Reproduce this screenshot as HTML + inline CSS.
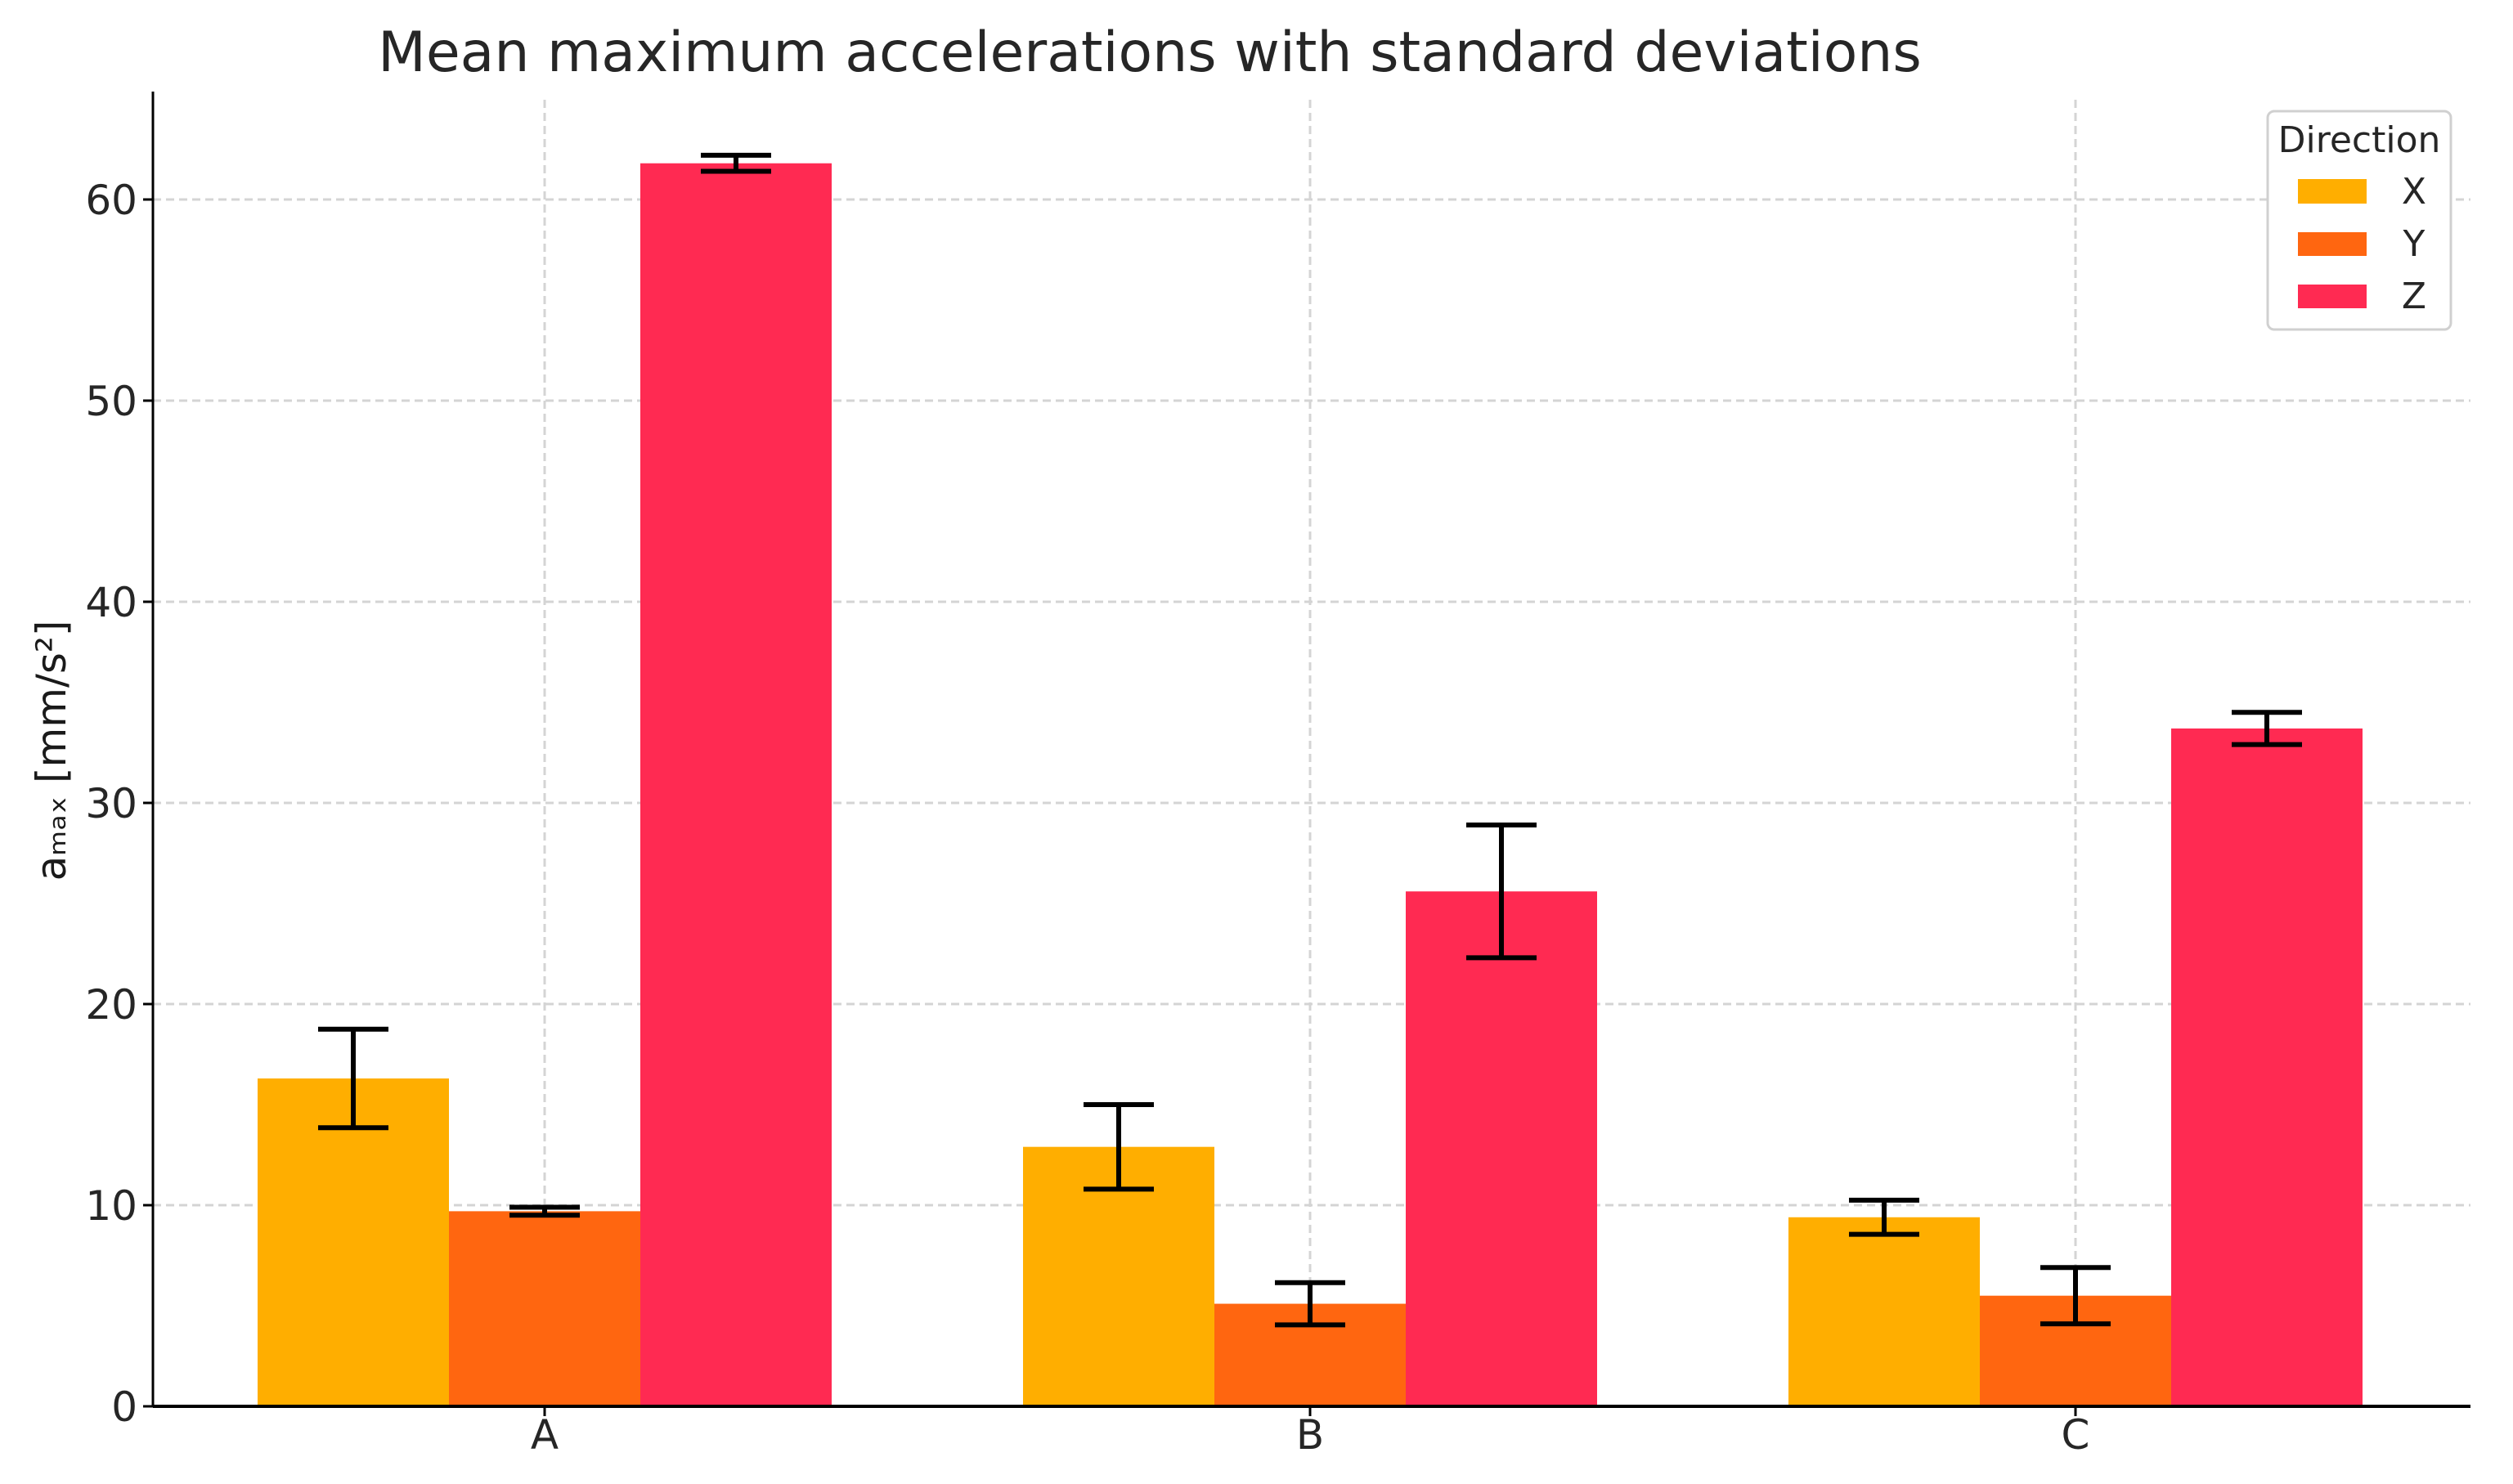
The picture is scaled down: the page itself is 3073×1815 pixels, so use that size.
<!DOCTYPE html>
<html><head><meta charset="utf-8"><style>
html,body{margin:0;padding:0;background:#fff;}
svg{display:block;font-family:"DejaVu Sans","Liberation Sans",sans-serif;}
</style></head><body>
<svg id="chart" width="3073" height="1815" viewBox="0 0 3073 1815" xmlns="http://www.w3.org/2000/svg">
<rect width="3073" height="1815" fill="#fff"/>
<text x="1406" y="87" font-size="68" fill="#262626" text-anchor="middle">Mean maximum accelerations with standard deviations</text>
<g id="grid"></g>
<g id="bars"></g>
<g id="errs"></g>
<g id="axes"></g>
<text transform="translate(80,918) rotate(-90)" font-size="50" fill="#1a1a1a" text-anchor="middle">aₘₐₓ [mm/s²]</text>
<g>
<rect x="2773" y="136" width="224" height="267" rx="8" fill="#fff" stroke="#d0d0d0" stroke-width="3"/>
<text x="2885" y="186" font-size="44" fill="#262626" text-anchor="middle">Direction</text>
<rect x="2810" y="219" width="84" height="30" fill="#FFAE00"/>
<text x="2952" y="249" font-size="44" fill="#262626" text-anchor="middle">X</text>
<rect x="2810" y="284" width="84" height="29" fill="#FF6610"/>
<text x="2952" y="313" font-size="44" fill="#262626" text-anchor="middle">Y</text>
<rect x="2810" y="348" width="84" height="29" fill="#FF2A52"/>
<text x="2952" y="377" font-size="44" fill="#262626" text-anchor="middle">Z</text>
</g>
</svg>
<script>
const categories = ["A","B","C"];
const seriesNames = ["X","Y","Z"];
const meanX = [16.3, 12.9, 9.4];
const meanY = [9.7, 5.1, 5.5];
const meanZ = [61.8, 25.6, 33.7];
const sdX = [2.45, 2.1, 0.85];
const sdY = [0.2, 1.05, 1.4];
const sdZ = [0.4, 3.3, 0.8];
const yTicks = [0,10,20,30,40,50,60];

const NS="http://www.w3.org/2000/svg";
const colors=["#FFAE00","#FF6610","#FF2A52"];
const axL=187, axR=3021, axTop=112, y0=1720, pxPerUnit=24.6;
const firstCenter=666, groupGap=936, barW=234;
function yScale(v){return y0 - v*pxPerUnit;}
function xCenter(i){return firstCenter + i*groupGap;}
function mk(tag,attrs,parent){const e=document.createElementNS(NS,tag);for(const k in attrs)e.setAttribute(k,attrs[k]);parent.appendChild(e);return e;}
const grid=document.getElementById('grid'),bars=document.getElementById('bars'),errs=document.getElementById('errs'),axes=document.getElementById('axes');

yTicks.forEach(t=>{
  const y=yScale(t);
  if(t>0){
    const g=mk('line',{x1:axL,x2:axR,y1:y,y2:y,stroke:'#d4d4d4','stroke-width':3,'stroke-dasharray':'10 6'},grid);
    
    
  }
  const tk=mk('line',{x1:axL-12,x2:axL,y1:y,y2:y,stroke:'#000','stroke-width':3},axes);
  
  
  const lb=mk('text',{x:168,y:y+18,'font-size':50,fill:'#262626','text-anchor':'end'},axes);
  lb.textContent=t;
  
  
});
categories.forEach((c,i)=>{
  const x=xCenter(i);
  const g=mk('line',{x1:x,x2:x,y1:axTop+10,y2:y0,stroke:'#d4d4d4','stroke-width':3,'stroke-dasharray':'10 6'},grid);
  
  
});
const means=[meanX,meanY,meanZ], sds=[sdX,sdY,sdZ];
categories.forEach((c,i)=>{
  seriesNames.forEach((s,j)=>{
    const cx=xCenter(i)+(j-1)*barW;
    const v=means[j][i], sd=sds[j][i];
    const r=mk('rect',{x:cx-barW/2,y:yScale(v),width:barW,height:y0-yScale(v),fill:colors[j]},bars);
    
    
    const eg=mk('g',{stroke:'#000','stroke-width':6},errs);
    
    
    mk('line',{x1:cx,x2:cx,y1:yScale(v+sd),y2:yScale(v-sd)},eg);
    mk('line',{x1:cx-43,x2:cx+43,y1:yScale(v+sd),y2:yScale(v+sd)},eg);
    mk('line',{x1:cx-43,x2:cx+43,y1:yScale(v-sd),y2:yScale(v-sd)},eg);
  });
  const x=xCenter(i);
  const tk=mk('line',{x1:x,x2:x,y1:y0,y2:y0+12,stroke:'#000','stroke-width':3},axes);
  
  
  const lb=mk('text',{x:x,y:1772,'font-size':50,fill:'#262626','text-anchor':'middle'},axes);
  lb.textContent=c;
  
  
});
const ya=mk('line',{x1:axL,x2:axL,y1:axTop,y2:y0+1.5,stroke:'#000','stroke-width':3},axes);


const xa=mk('line',{x1:axL,x2:axR,y1:y0,y2:y0,stroke:'#000','stroke-width':4},axes);


</script>
</body></html>
